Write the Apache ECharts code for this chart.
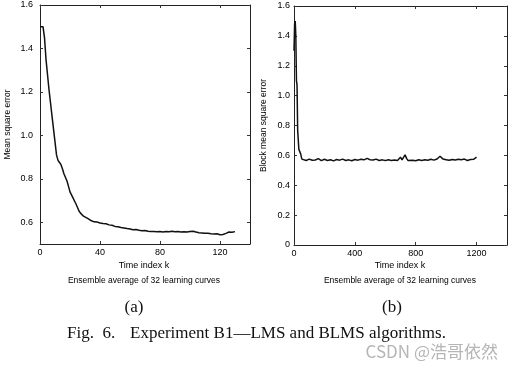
<!DOCTYPE html>
<html>
<head>
<meta charset="utf-8">
<script src="https://cdn.jsdelivr.net/npm/echarts@6/dist/echarts.min.js"></script>
<style>
html,body{margin:0;padding:0;background:#fff;}
#c{width:514px;height:370px;}
</style>
</head>
<body>
<div id="c"></div>
<script>
// ---- Data: panel (a) LMS ----
var kA = [0,1,2,3,4,5,6,7,8,9,10,11,12,13,14,15,16,17,18,19,20,21,22,23,24,25,26,27,28,29,30,32,34,36,38,40,42,44,46,48,50,52,54,56,58,60,62,64,66,68,70,72,74,76,78,80,82,84,86,88,90,92,94,96,98,100,102,104,106,108,110,112,114,116,118,120,122,124,126,128,130];
var mseA = [1.50,1.50,1.50,1.45,1.35,1.28,1.21,1.15,1.09,1.03,0.97,0.91,0.885,0.875,0.865,0.845,0.822,0.806,0.790,0.765,0.740,0.726,0.712,0.698,0.684,0.668,0.652,0.642,0.634,0.628,0.624,0.617,0.608,0.602,0.601,0.597,0.594,0.593,0.588,0.586,0.581,0.579,0.576,0.574,0.571,0.569,0.566,0.567,0.563,0.561,0.562,0.559,0.557,0.558,0.556,0.557,0.555,0.557,0.556,0.559,0.556,0.557,0.555,0.556,0.555,0.558,0.559,0.555,0.552,0.551,0.549,0.549,0.547,0.546,0.547,0.543,0.544,0.549,0.555,0.554,0.557];

// ---- Data: panel (b) BLMS ----
var kB = [0,4,8,12,16,20,24,28,32,36,40,44,48,52,56,60,80,100,120,140,160,180,200,220,240,260,280,300,320,340,360,380,400,420,440,460,480,500,520,540,560,580,600,620,640,660,680,700,710,720,730,740,750,760,780,800,820,840,860,880,900,920,940,960,980,1000,1020,1040,1060,1080,1100,1120,1140,1160,1180,1200];
var mseB = [1.30,1.48,1.50,1.40,1.10,1.07,0.77,0.76,0.64,0.635,0.63,0.61,0.59,0.575,0.57,0.572,0.566,0.575,0.567,0.569,0.578,0.565,0.574,0.566,0.571,0.563,0.572,0.568,0.575,0.566,0.570,0.564,0.572,0.568,0.574,0.570,0.580,0.571,0.569,0.575,0.566,0.570,0.565,0.571,0.566,0.569,0.565,0.588,0.570,0.575,0.603,0.580,0.565,0.562,0.568,0.564,0.571,0.566,0.570,0.567,0.574,0.568,0.576,0.594,0.575,0.571,0.567,0.573,0.569,0.574,0.571,0.575,0.566,0.572,0.574,0.588];

// ---- Tick labels ----
var xTicksA = [0,40,80,120];
var yTicksA = [0.6,0.8,1.0,1.2,1.4,1.6];
var xTicksB = [0,400,800,1200];
var yTicksB = [0,0.2,0.4,0.6,0.8,1.0,1.2,1.4,1.6];

function pairs(xs, ys){ return xs.map(function(x,i){ return [x, ys[i]]; }); }

var FONT = 'Liberation Sans';
var INK = '#000';
function fmt(v){ return v === 0 ? '0' : (Math.round(v*10)/10).toFixed(1); }

function xAx(grid, max, ticks, top){
  return {
    type: 'value', gridIndex: grid, min: 0, max: max, position: top ? 'top' : 'bottom',
    axisLine: { show: true, onZero: false, lineStyle: { color: '#222', width: 1 } },
    axisTick: { show: true, inside: true, length: 3, customValues: ticks, lineStyle: { color: '#333' } },
    axisLabel: { show: !top, customValues: ticks, margin: 4, fontFamily: FONT, fontSize: 9, color: INK, formatter: function(v){ return String(v); } },
    splitLine: { show: false }
  };
}
function yAx(grid, min, max, ticks, right, name, gap, margin){
  return {
    type: 'value', gridIndex: grid, min: min, max: max, position: right ? 'right' : 'left',
    name: right ? '' : name, nameLocation: 'middle', nameGap: gap, nameRotate: 90,
    nameTextStyle: { fontFamily: FONT, fontSize: 8.5, color: INK },
    axisLine: { show: true, onZero: false, lineStyle: { color: '#222', width: 1 } },
    axisTick: { show: true, inside: true, length: 3, customValues: ticks, lineStyle: { color: '#333' } },
    axisLabel: { show: !right, customValues: ticks, margin: margin, fontFamily: FONT, fontSize: 9, color: INK, formatter: fmt },
    splitLine: { show: false }
  };
}

var chart = echarts.init(document.getElementById('c'), null, { renderer: 'canvas' });
chart.setOption({
  backgroundColor: '#fff',
  animation: false,
  grid: [
    { left: 40, top: 5, width: 210, height: 239 },
    { left: 294, top: 6, width: 213, height: 239 }
  ],
  xAxis: [
    xAx(0, 140, xTicksA, false),
    xAx(0, 140, xTicksA, true),
    xAx(1, 1400, xTicksB, false),
    xAx(1, 1400, xTicksB, true)
  ],
  yAxis: [
    yAx(0, 0.5, 1.6, yTicksA, false, 'Mean square error', 28, 7),
    yAx(0, 0.5, 1.6, yTicksA, true, '', 0, 0),
    yAx(1, 0, 1.6, yTicksB, false, 'Block mean square error', 26, 4),
    yAx(1, 0, 1.6, yTicksB, true, '', 0, 0)
  ],
  series: [
    { type: 'line', xAxisIndex: 0, yAxisIndex: 0, data: pairs(kA, mseA), showSymbol: false, lineStyle: { color: '#111', width: 1.5 } },
    { type: 'line', xAxisIndex: 2, yAxisIndex: 2, data: pairs(kB, mseB), showSymbol: false, lineStyle: { color: '#111', width: 1.5 } }
  ],
  graphic: [
    { type: 'text', x: 144, y: 266, style: { text: 'Time index k', fontFamily: FONT, fontSize: 9, fill: INK, align: 'center', verticalAlign: 'middle' } },
    { type: 'text', x: 144, y: 281, style: { text: 'Ensemble average of 32 learning curves', fontFamily: FONT, fontSize: 8.5, fill: INK, align: 'center', verticalAlign: 'middle' } },
    { type: 'text', x: 400, y: 266, style: { text: 'Time index k', fontFamily: FONT, fontSize: 9, fill: INK, align: 'center', verticalAlign: 'middle' } },
    { type: 'text', x: 400, y: 281, style: { text: 'Ensemble average of 32 learning curves', fontFamily: FONT, fontSize: 8.5, fill: INK, align: 'center', verticalAlign: 'middle' } },
    { type: 'text', x: 134, y: 308, style: { text: '(a)', fontFamily: 'Liberation Serif', fontSize: 17, fill: '#111', align: 'center', verticalAlign: 'middle' } },
    { type: 'text', x: 392, y: 308, style: { text: '(b)', fontFamily: 'Liberation Serif', fontSize: 17, fill: '#111', align: 'center', verticalAlign: 'middle' } },
    { type: 'text', x: 67, y: 334, style: { text: 'Fig.  6.', fontFamily: 'Liberation Serif', fontSize: 17, fill: '#111', align: 'left', verticalAlign: 'middle' } },
    { type: 'text', x: 130, y: 334, style: { text: 'Experiment B1\u2014LMS and BLMS algorithms.', fontFamily: 'Liberation Serif', fontSize: 17, fill: '#111', align: 'left', verticalAlign: 'middle' } },
    { type: 'text', x: 498, y: 352, style: { text: 'CSDN @浩哥依然', fontFamily: 'Noto Sans CJK SC', fontSize: 17, fill: '#b5b5b5', align: 'right', verticalAlign: 'middle' } }
  ]
});
</script>
</body>
</html>
